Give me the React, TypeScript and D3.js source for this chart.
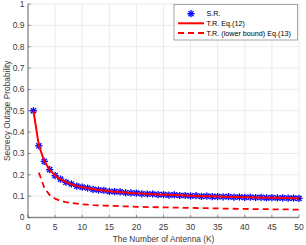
import React from "react";
import * as d3 from "d3";

const antennas: number[] = d3.range(1, 51);
const theory: number[] = [
  0.5, 0.338, 0.264, 0.223, 0.197, 0.179, 0.166, 0.156, 0.148, 0.142,
  0.137, 0.133, 0.129, 0.126, 0.123, 0.121, 0.119, 0.117, 0.115, 0.113,
  0.112, 0.11, 0.109, 0.108, 0.107, 0.106, 0.105, 0.104, 0.103, 0.102,
  0.101, 0.1, 0.0995, 0.099, 0.098, 0.0975, 0.097, 0.096, 0.0955, 0.095,
  0.0945, 0.094, 0.0935, 0.093, 0.0925, 0.092, 0.0915, 0.091, 0.0905, 0.09,
];
const simulation: number[] = [
  0.5, 0.336, 0.263, 0.224, 0.196, 0.18, 0.165, 0.157, 0.147, 0.142,
  0.138, 0.132, 0.129, 0.127, 0.122, 0.121, 0.12, 0.116, 0.115, 0.114,
  0.111, 0.11, 0.11, 0.107, 0.107, 0.105, 0.106, 0.103, 0.103, 0.101,
  0.102, 0.099, 0.1, 0.098, 0.098, 0.097, 0.0975, 0.0955, 0.096, 0.094,
  0.095, 0.0935, 0.094, 0.092, 0.093, 0.0915, 0.092, 0.0905, 0.091, 0.0895,
];
const lowerK: number[] = d3.range(2, 51);
const lowerBound: number[] = [
  0.21, 0.14, 0.105, 0.088, 0.078, 0.072, 0.068, 0.065, 0.062,
  0.06, 0.058, 0.057, 0.056, 0.055, 0.054, 0.053, 0.052, 0.051, 0.05,
  0.0495, 0.049, 0.0485, 0.048, 0.0475, 0.047, 0.0465, 0.046, 0.0455, 0.045,
  0.0445, 0.044, 0.0435, 0.043, 0.0425, 0.042, 0.0415, 0.041, 0.0405, 0.04,
  0.0397, 0.0394, 0.0391, 0.0388, 0.0385, 0.0382, 0.0379, 0.0376, 0.0373, 0.037,
];
const xTicks: number[] = [0, 5, 10, 15, 20, 25, 30, 35, 40, 45, 50];
const yTicks: number[] = [0, 0.1, 0.2, 0.3, 0.4, 0.5, 0.6, 0.7, 0.8, 0.9, 1];
const legendLabels: string[] = ["S.R.", "T.R. Eq.(12)", "T.R. (lower bound) Eq.(13)"];
const xLabel = "The Number of Antenna (K)";
const yLabel = "Secrecy Outage Probability";

const W = 306;
const H = 245;
const FONT = "'Liberation Sans', Arial, Helvetica, sans-serif";

function Star({ x, y, r }: { x: number; y: number; r: number }) {
  const d = r * 0.72;
  return (
    <g stroke="#0000ff" strokeWidth={1.35}>
      <line x1={x - r} y1={y} x2={x + r} y2={y} />
      <line x1={x} y1={y - r} x2={x} y2={y + r} />
      <line x1={x - d} y1={y - d} x2={x + d} y2={y + d} />
      <line x1={x - d} y1={y + d} x2={x + d} y2={y - d} />
    </g>
  );
}

export default function App() {
  const x = d3.scaleLinear().domain([0, 50]).range([28, 299]);
  const y = d3.scaleLinear().domain([0, 1]).range([217.5, 4]);
  const line = d3
    .line<[number, number]>()
    .x((d) => x(d[0]))
    .y((d) => y(d[1]));
  const theoryPath = line(antennas.map((k, i) => [k, theory[i]]))!;
  const lowerPath = line(lowerK.map((k, i) => [k, lowerBound[i]]))!;

  const lx = 174;
  const ly = 4.5;
  const lw = 123.5;
  const lh = 35.5;
  const rowY = [13.7, 23.3, 33];

  return (
    <svg
      width={W}
      height={H}
      style={{ position: "absolute", left: 0, top: 0, background: "#fff" }}
      fontFamily={FONT}
    >
      <rect width={W} height={H} fill="#fff" />
      {/* grid */}
      <g stroke="#e6e6e6" strokeWidth={0.8}>
        {xTicks.map((t) => (
          <line key={"gx" + t} x1={x(t)} x2={x(t)} y1={y(0)} y2={y(1)} />
        ))}
        {yTicks.map((t) => (
          <line key={"gy" + t} x1={x(0)} x2={x(50)} y1={y(t)} y2={y(t)} />
        ))}
      </g>
      {/* axes */}
      <g stroke="#8a8a8a" strokeWidth={1.3}>
        <line x1={x(0)} x2={x(0)} y1={y(0) + 0.6} y2={y(1)} />
        <line x1={x(0)} x2={x(50)} y1={y(0)} y2={y(0)} />
      </g>
      <g stroke="#4a4a4a" strokeWidth={0.6}>
        {yTicks.map((t) => (
          <line key={"ty" + t} x1={x(0)} x2={x(0) + 2.7} y1={y(t)} y2={y(t)} />
        ))}
        {xTicks.map((t) => (
          <line key={"tx" + t} x1={x(t)} x2={x(t)} y1={y(0)} y2={y(0) - 2.7} />
        ))}
      </g>
      <g fill="#3a3a3a" fontSize={8.5}>
        {yTicks.map((t) => (
          <text key={"ly" + t} x={x(0) - 3.5} y={y(t)} dy="0.35em" textAnchor="end">
            {t === 0 || t === 1 ? String(t) : t.toFixed(1)}
          </text>
        ))}
        {xTicks.map((t) => (
          <text key={"lx" + t} x={x(t)} y={y(0) + 10} dy="0.35em" textAnchor="middle">
            {t}
          </text>
        ))}
      </g>
      <text x={(x(0) + x(50)) / 2} y={239} dy="0.35em" textAnchor="middle" fontSize={8.3} fill="#3a3a3a">
        {xLabel}
      </text>
      <text
        transform={`translate(7,${(y(0) + y(1)) / 2}) rotate(-90)`}
        dy="0.35em"
        textAnchor="middle"
        fontSize={8.3}
        fill="#3a3a3a"
      >
        {yLabel}
      </text>
      {/* data */}
      <g>
        {antennas.map((k, i) => (
          <Star key={"s" + k} x={x(k)} y={y(simulation[i])} r={3.6} />
        ))}
      </g>
      <path d={theoryPath} fill="none" stroke="#ff0000" strokeWidth={2} />
      <path d={lowerPath} fill="none" stroke="#ff0000" strokeWidth={1.8} strokeDasharray="6,4" />
      {/* legend */}
      <rect x={lx} y={ly} width={lw} height={lh} fill="#fff" stroke="#7f7f7f" strokeWidth={0.7} />
      <Star x={191} y={rowY[0]} r={3.6} />
      <line x1={178} x2={204} y1={rowY[1]} y2={rowY[1]} stroke="#ff0000" strokeWidth={2} />
      <line x1={178} x2={204} y1={rowY[2]} y2={rowY[2]} stroke="#ff0000" strokeWidth={1.8} strokeDasharray="6,4" />
      <g fontSize={7.2} fill="#000">
        {legendLabels.map((l, i) => (
          <text key={l} x={206.5} y={rowY[i]} dy="0.35em">
            {l}
          </text>
        ))}
      </g>
    </svg>
  );
}
